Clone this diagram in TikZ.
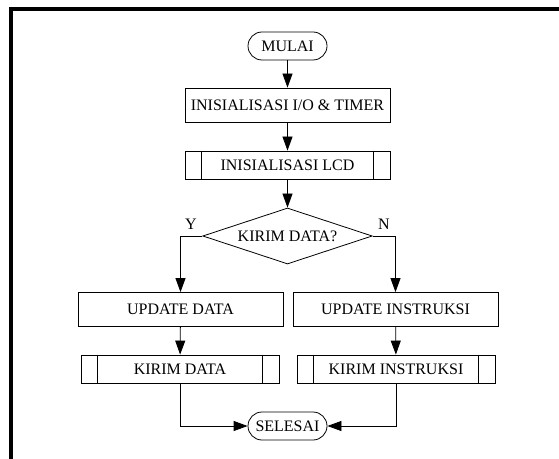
\documentclass[tikz,border=0pt]{standalone}
\usepackage{fontspec}
\setmainfont{Liberation Serif}
\usetikzlibrary{shapes.geometric,arrows.meta}
\begin{document}
\begin{tikzpicture}[x=0.75pt,y=-0.75pt,
  line width=0.6pt,
  every node/.style={font=\fontsize{12}{14}\selectfont},
  terminal/.style={draw, rounded corners=10.5pt, minimum width=59.25pt,
    minimum height=21pt, inner sep=0pt},
  process/.style={draw, minimum width=153.75pt, minimum height=25.5pt, inner sep=0pt},
  subproc/.style={draw, minimum width=148.5pt, minimum height=21pt, inner sep=0pt},
  decision/.style={draw, diamond, aspect=3, minimum width=127.1pt,
    minimum height=42pt, inner sep=0pt},
  flow/.style={-{Triangle[length=10.5pt,width=7.5pt]}},
  frame/.style={line width=3pt, miter limit=10}]
\useasboundingbox (0,0) rectangle (559,459);

% outer frame (open on the right and bottom)
\draw[frame] (11,462) -- (11,9) -- (562,9);

% nodes
\node[terminal] (start) at (287.5,46) {MULAI};
\node[process] (init) at (287.5,105) {INISIALISASI I/O \& TIMER};
\node[subproc, minimum width=153.75pt] (lcd) at (287.5,165) {INISIALISASI LCD};
\node[decision] (ask) at (287.5,236) {KIRIM DATA?};
\node (yes) at (191,224) {Y};
\node (no) at (384,224) {N};
\node[process] (upd) at (180.5,309.5) {UPDATE DATA};
\node[process] (upi) at (395.5,309.5) {UPDATE INSTRUKSI};
\node[subproc] (kd) at (180,369) {KIRIM DATA};
\node[subproc] (ki) at (396,369) {KIRIM INSTRUKSI};
\node[terminal] (stop) at (287.5,426) {SELESAI};

% inner bars of the predefined-process boxes
\foreach \n in {lcd,kd,ki}{
  \draw ([xshift=12.75pt]\n.north west) -- ([xshift=12.75pt]\n.south west);
  \draw ([xshift=-12.75pt]\n.north east) -- ([xshift=-12.75pt]\n.south east);
}

% connectors
\draw[flow] (start) -- (init);
\draw[flow] (init) -- (lcd);
\draw[flow] (lcd) -- (ask);
\draw[flow] (ask.west) -| (upd.north);
\draw[flow] (ask.east) -| (upi.north);
\draw[flow] (upd) -- (kd);
\draw[flow] (upi) -- (ki);
\draw[flow] (kd.south) |- (stop.west);
\draw[flow] (ki.south) |- (stop.east);
\end{tikzpicture}
\end{document}
